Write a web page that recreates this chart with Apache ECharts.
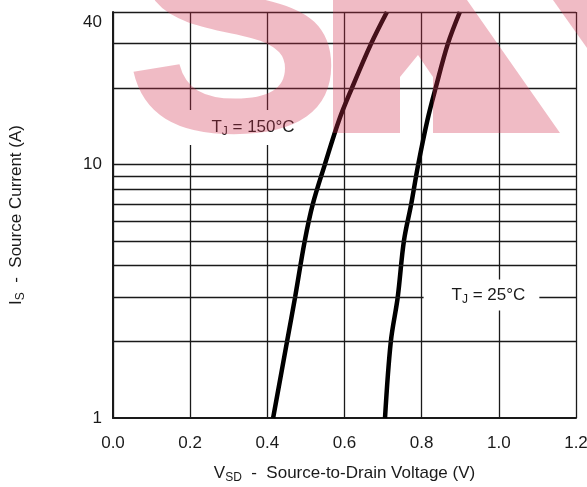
<!DOCTYPE html>
<html>
<head>
<meta charset="utf-8">
<script src="https://cdn.jsdelivr.net/npm/echarts@6/dist/echarts.min.js"></script>
<style>
  html, body { margin: 0; padding: 0; background: #fff; }
  #chart { width: 587px; height: 487px; }
</style>
</head>
<body>
<div id="chart"></div>
<script>
// source current (A) at which the curves were read
var currents = [1, 2, 3, 5, 7, 10, 15, 20, 30, 40];
// forward voltage (V) for each current
var vsd150 = [0.415, 0.451, 0.472, 0.497, 0.518, 0.549, 0.586, 0.619, 0.669, 0.71];
var vsd25 = [0.705, 0.72, 0.738, 0.754, 0.773, 0.791, 0.815, 0.836, 0.868, 0.899];
// horizontal (log) grid lines
var gridCurrents = [2, 3, 4, 5, 6, 7, 8, 9, 10, 20, 30, 40];
// where the curve labels sit [V, I]
var label150 = [0.3395, 14.0];
var label25 = [0.955, 3.06];

var font = 'Liberation Sans';
var ink = '#1a1a1a';
var pink = 'rgba(210,50,80,0.33)';

var rich = {
  n: { fontSize: 17, color: ink, fontFamily: font },
  s: { fontSize: 12, color: ink, fontFamily: font, padding: [9, 0, 0, 0] }
};

function pairs(xs, ys) {
  return xs.map(function (x, i) { return [x, ys[i]]; });
}

var myChart = echarts.init(document.getElementById('chart'));
var option = {
  animation: false,
  backgroundColor: '#fff',
  grid: { left: 113, right: 11, top: 12, bottom: 69, containLabel: false, outerBoundsMode: 'none' },
  xAxis: {
    type: 'value',
    min: 0,
    max: 1.2,
    interval: 0.2,
    name: '{n|V}{s|SD}{n|  -  Source-to-Drain Voltage (V)}',
    nameLocation: 'middle',
    nameGap: 45,
    nameTextStyle: { rich: rich },
    axisLine: { lineStyle: { color: ink, width: 2 } },
    axisTick: { show: false },
    axisLabel: {
      margin: 17,
      fontSize: 17,
      fontFamily: font,
      color: ink,
      hideOverlap: false,
      formatter: function (v) { return v.toFixed(1); }
    },
    splitLine: { show: true, lineStyle: { color: ink, width: 1.3 } }
  },
  yAxis: {
    type: 'log',
    logBase: 10,
    min: 1,
    max: 40,
    name: '{n|I}{s|S}{n|  -  Source Current (A)}',
    nameLocation: 'middle',
    nameGap: 86,
    nameTextStyle: { rich: rich },
    axisLine: { show: true, lineStyle: { color: ink, width: 2 } },
    axisTick: { show: false },
    axisLabel: {
      margin: 11,
      fontSize: 17,
      fontFamily: font,
      color: ink,
      formatter: function (v) {
        var r = Math.round(v);
        return r === 40 ? '{m|40}' : String(r);
      },
      rich: { m: { fontSize: 17, fontFamily: font, color: ink, padding: [20, 0, 0, 0] } }
    },
    splitLine: { show: false }
  },
  // pink watermark over the upper part of the chart
  graphic: [
    {
      type: 'text', z: 100, silent: true,
      x: 124, y: 40,
      style: {
        text: 'S', font: 'bold 330px "Liberation Sans"',
        fill: pink, verticalAlign: 'middle', align: 'left'
      }
    },
    {
      type: 'polygon', z: 100, silent: true,
      shape: { points: [[333, 0], [467, 0], [560, 133], [433, 133], [433, 77], [418, 55], [400, 77], [400, 133], [333, 133]] },
      style: { fill: pink }
    },
    {
      type: 'polygon', z: 100, silent: true,
      shape: { points: [[553, 0], [587, 0], [587, 48]] },
      style: { fill: pink }
    }
  ],
  series: [
    {
      type: 'line',
      data: pairs(vsd150, currents),
      smooth: 0.35,
      symbol: 'none',
      lineStyle: { color: '#000', width: 4.5 },
      markLine: {
        silent: true,
        symbol: 'none',
        label: { show: false },
        lineStyle: { color: ink, width: 1.3, type: 'solid' },
        data: gridCurrents.map(function (c) { return { yAxis: c }; })
      }
    },
    {
      type: 'line',
      data: pairs(vsd25, currents),
      smooth: 0.35,
      symbol: 'none',
      lineStyle: { color: '#000', width: 4.5 }
    },
    {
      type: 'scatter',
      z: 5,
      symbolSize: 0,
      silent: true,
      itemStyle: { opacity: 1 },
      data: [
        { value: label150, label: { formatter: '{n|T}{s|J}{n| = 150°C}', padding: [7, 6, 7, 24] } },
        { value: label25, label: { formatter: '{n|T}{s|J}{n| = 25°C}', padding: [5, 14, 5, 28] } }
      ],
      label: {
        show: true,
        position: 'inside',
        opacity: 1,
        color: ink,
        backgroundColor: '#fff',
        rich: rich
      }
    }
  ]
};
myChart.setOption(option);
</script>
</body>
</html>
